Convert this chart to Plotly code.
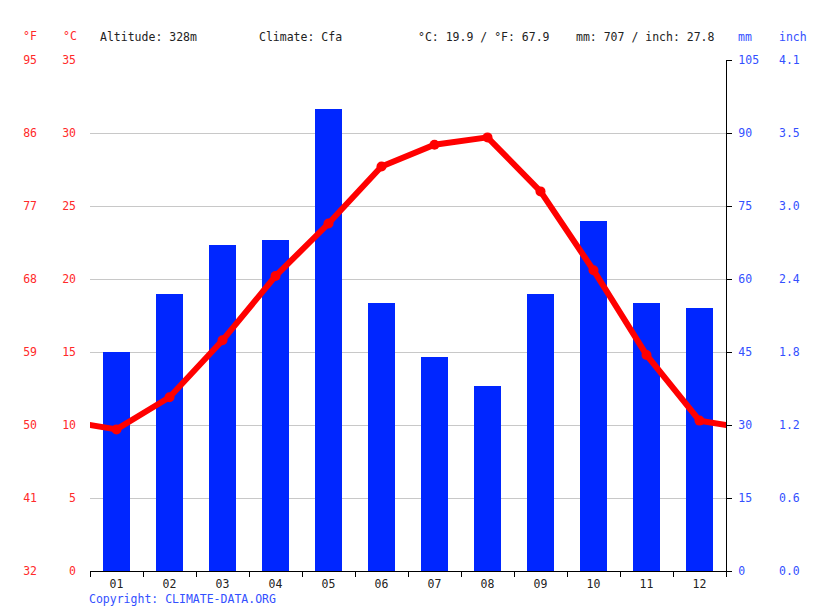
import plotly.graph_objects as go

# climate table
months = ["01", "02", "03", "04", "05", "06", "07", "08", "09", "10", "11", "12"]
temp_c = [9.7, 11.9, 15.8, 20.2, 23.8, 27.7, 29.2, 29.7, 26.0, 20.6, 14.8, 10.3]
precip_mm = [45, 57, 67, 68, 95, 55, 44, 38, 57, 72, 55, 54]

c_ticks = [0, 5, 10, 15, 20, 25, 30, 35]
f_ticks = [32, 41, 50, 59, 68, 77, 86, 95]
mm_ticks = [0, 15, 30, 45, 60, 75, 90, 105]
inch_labels = ["0.0", "0.6", "1.2", "1.8", "2.4", "3.0", "3.5", "4.1"]

altitude = "Altitude: 328m"
climate = "Climate: Cfa"
temp_summary = "°C: 19.9 / °F: 67.9"
precip_summary = "mm: 707 / inch: 27.8"

W, H = 815, 611
X0, X1 = 90, 726
TOP, BOTTOM = 60, 571
RED = "#ff2a2a"
BLUE = "#3350ff"
FONT = "DejaVu Sans Mono"

x_idx = list(range(1, 13))

fig = go.Figure()

fig.add_trace(go.Bar(
    x=x_idx, y=precip_mm,
    width=0.51,
    marker=dict(color="#0026ff", line=dict(width=0)),
    xaxis="x", yaxis="y",
    showlegend=False,
))

# wrap Dec before Jan and Jan after Dec so the line runs to both edges
fig.add_trace(go.Scatter(
    x=[0] + x_idx + [13],
    y=[temp_c[-1]] + temp_c + [temp_c[0]],
    mode="lines+markers",
    line=dict(color="#ff0000", width=6),
    marker=dict(color="#ff0000", size=10),
    xaxis="x", yaxis="y2",
    showlegend=False,
))

dom = [X0 / W, X1 / W]

fig.update_layout(
    width=W, height=H,
    margin=dict(l=0, r=0, t=TOP, b=H - BOTTOM),
    paper_bgcolor="white", plot_bgcolor="white",
    font=dict(family=FONT, size=11.5, color="#222"),
    bargap=0,
    xaxis=dict(
        domain=dom, range=[0.5, 12.5],
        tickvals=[i + 0.5 for i in range(0, 13)],
        showticklabels=False,
        ticks="outside", ticklen=5, tickcolor="black", tickwidth=1,
        showline=True, linecolor="black", linewidth=1,
        showgrid=False, zeroline=False,
    ),
    xaxis2=dict(
        domain=dom, range=[0.5, 12.5], overlaying="x", anchor="y",
        tickvals=x_idx, ticktext=months,
        ticks="", ticklabelstandoff=4,
        tickfont=dict(color="#222"),
        showgrid=False, zeroline=False, showline=False,
    ),
    yaxis=dict(
        range=[0, 105], side="right", anchor="x",
        tickvals=mm_ticks,
        ticks="outside", ticklen=5, tickcolor="black",
        showline=True, linecolor="black", linewidth=1,
        showgrid=True, gridcolor="#c8c8c8", gridwidth=1,
        zeroline=False,
        tickfont=dict(color=BLUE), ticklabelstandoff=4,
    ),
    yaxis2=dict(
        range=[0, 35], overlaying="y", side="left", anchor="x",
        tickvals=c_ticks, ticks="",
        showgrid=False, zeroline=False, showline=False,
        tickfont=dict(color=RED), ticklabelstandoff=13,
    ),
    yaxis3=dict(
        range=[32, 95], overlaying="y", side="left", anchor="free",
        position=40 / W,
        tickvals=f_ticks, ticks="",
        showgrid=False, zeroline=False, showline=False,
        tickfont=dict(color=RED), ticklabelstandoff=3,
    ),
    yaxis4=dict(
        range=[0, 105], overlaying="y", side="right", anchor="free",
        position=776 / W,
        tickvals=mm_ticks, ticktext=inch_labels, ticks="",
        showgrid=False, zeroline=False, showline=False,
        tickfont=dict(color=BLUE), ticklabelstandoff=2,
    ),
)

# empty traces to make the extra axes render
fig.add_trace(go.Scatter(x=[None], y=[None], xaxis="x2", yaxis="y", showlegend=False))
fig.add_trace(go.Scatter(x=[None], y=[None], xaxis="x", yaxis="y3", showlegend=False))
fig.add_trace(go.Scatter(x=[None], y=[None], xaxis="x", yaxis="y4", showlegend=False))


def label(text, x, y, color, xanchor="left"):
    # x, y in page pixels -> paper coords (paper y is relative to the plot area)
    fig.add_annotation(
        text=text, x=x / W, y=(BOTTOM - y) / (BOTTOM - TOP),
        xref="paper", yref="paper",
        xanchor=xanchor, yanchor="middle", showarrow=False,
        font=dict(family=FONT, size=11.5, color=color),
    )


label("°F", 30, 36, RED, "center")
label("°C", 70, 36, RED, "center")
label(altitude, 98, 37, "#222")
label(climate, 257, 37, "#222")
label(temp_summary, 416, 37, "#222")
label(precip_summary, 574, 37, "#222")
label("mm", 736, 37, BLUE)
label("inch", 777, 37, BLUE)
label("Copyright: CLIMATE-DATA.ORG", 87, 599, BLUE)

fig.write_html(
    "out.html",
    config={"displayModeBar": False},
    post_script="document.body.style.margin='0';",
)
